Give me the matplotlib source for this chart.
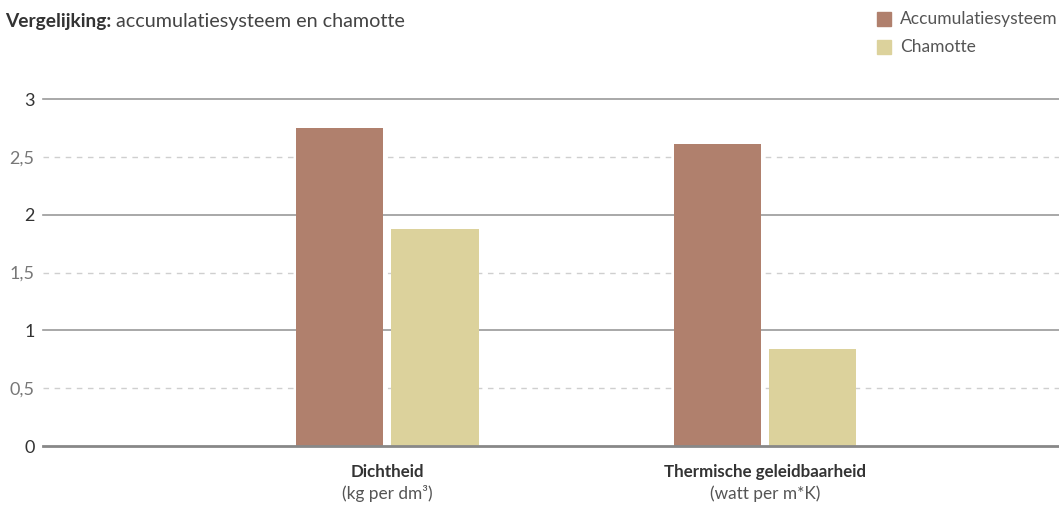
import matplotlib.pyplot as plt
import matplotlib.transforms as mtransforms
import numpy as np

plt.rcParams['font.family'] = ['Lato', 'DejaVu Sans']

# Data
categories = ["Dichtheid", "Thermische geleidbaarheid"]
units = ["(kg per dm³)", "(watt per m*K)"]
series_names = ["Accumulatiesysteem", "Chamotte"]
accumulatie = [2.75, 2.61]
chamotte = [1.88, 0.84]
colors = ["#b0806d", "#dcd29c"]

fig = plt.figure(figsize=(10.59, 5.05), dpi=100)
ax = fig.add_axes([0.0406, 0.1168, 0.9594, 0.687])

x = np.arange(len(categories))
width = 0.231
offset = 0.126
ax.bar(x - offset, accumulatie, width, color=colors[0], zorder=3)
ax.bar(x + offset, chamotte, width, color=colors[1], zorder=3)

ax.set_xlim(-0.913, 1.78)
ax.set_ylim(0, 3)

# Grid lines
for v in [1, 2, 3]:
    ax.axhline(v, color="#9a9a9a", lw=1.2, zorder=1, clip_on=False)
for v in [0.5, 1.5, 2.5]:
    ax.axhline(v, color="#cfcfcf", lw=1.0, ls=(0, (4, 4)), zorder=1)
ax.axhline(0, color="#888888", lw=2.0, zorder=4, clip_on=False)

for s in ax.spines.values():
    s.set_visible(False)

yticks = [0, 0.5, 1, 1.5, 2, 2.5, 3]
ax.set_yticks(yticks)
ax.set_yticklabels([("%g" % t).replace(".", ",") for t in yticks])
ax.tick_params(axis="y", length=0, pad=6, labelsize=13)
for lbl, t in zip(ax.get_yticklabels(), yticks):
    lbl.set_color("#333333" if t == int(t) else "#777777")
ax.set_xticks([])

# Category labels
trans = mtransforms.blended_transform_factory(ax.transData, fig.transFigure)
for xi, cat, unit in zip(x, categories, units):
    ax.text(xi, 1 - 472 / 505, cat, transform=trans, ha="center", va="center",
            fontsize=12.2, fontweight="bold", color="#333333")
    ax.text(xi, 1 - 494 / 505, unit, transform=trans, ha="center", va="center",
            fontsize=12.4, color="#555555")

# Title
fig.text(5 / 1059, 1 - 21 / 505, "Vergelijking:", fontsize=13.8, fontweight="bold",
         color="#333333", va="center", ha="left")
fig.text(116 / 1059, 1 - 21 / 505, "accumulatiesysteem en chamotte", fontsize=14.2,
         color="#444444", va="center", ha="left")

# Legend
for i, (name, c) in enumerate(zip(series_names, colors)):
    yc = 1 - (19 + 28 * i) / 505
    fig.patches.append(plt.Rectangle((877 / 1059, yc - 7 / 505), 14 / 1059, 14 / 505,
                                     transform=fig.transFigure, color=c, figure=fig))
    fig.text(900 / 1059, yc, name, fontsize=12.5, color="#555555", va="center", ha="left")

fig.savefig("out.png", dpi=100)
